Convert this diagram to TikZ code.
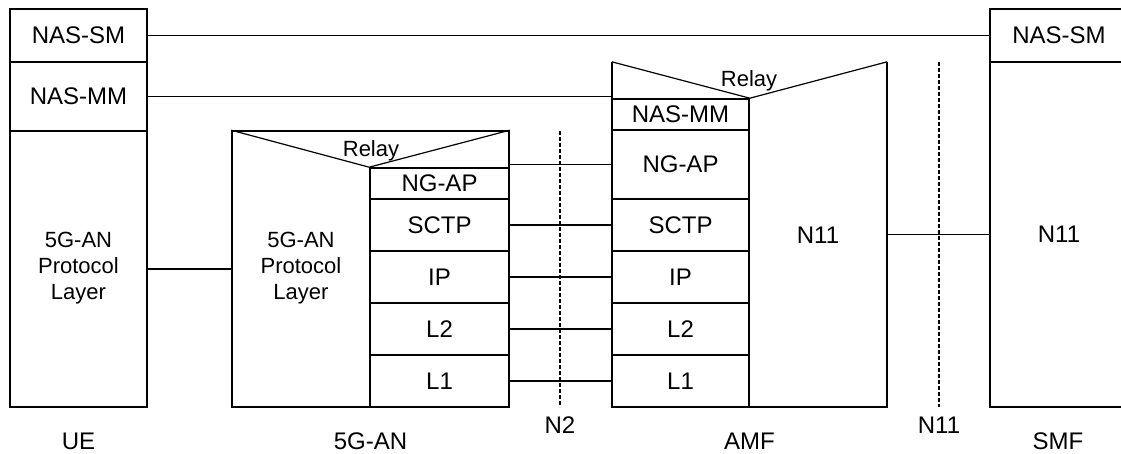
\documentclass[tikz,border=0pt]{standalone}
\usepackage{fontspec}
\setmainfont{Liberation Sans}
\usetikzlibrary{positioning}

\tikzset{
    cell/.style={draw, line width=1.6pt, inner sep=0pt, font=\fontsize{24}{26}\selectfont},
    frame/.style={inner sep=0pt},
    lbl/.style={inner sep=0pt, font=\fontsize{24}{26}\selectfont},
    relaytext/.style={inner sep=0pt, font=\fontsize{22}{26}\selectfont},
    stacktext/.style={inner sep=0pt, align=center, font=\fontsize{22}{26}\selectfont},
    link/.style={line width=1.6pt},
    vline/.style={line width=1.2pt},
    refline/.style={line width=1.2pt, dash pattern=on 4pt off 2pt}
}

\begin{document}
\begin{tikzpicture}[x=1pt, y=-1pt]
    \useasboundingbox (0, 0) rectangle (1121, 454);
    \clip (0, 0) rectangle (1121, 454);

    % UE
    \node[cell, minimum width=137pt, minimum height=53pt] (ueSM) at (78.5, 35.5) {NAS-SM};
    \node[cell, minimum width=137pt, minimum height=69pt] (ueMM) at (78.5, 96.5) {NAS-MM};
    \node[cell, minimum width=137pt, minimum height=276pt] (ueAN) at (78.5, 269) {};
    \node[stacktext] (uePL) at (78.5, 268) {5G-AN\\Protocol\\Layer};

    % 5G-AN
    \node[cell, minimum width=277pt, minimum height=276pt] (anBox) at (370.5, 269) {};
    \node[cell, minimum width=139pt, minimum height=31pt] (anNGAP) at (439.5, 183.5) {NG-AP};
    \node[cell, minimum width=139pt, minimum height=52pt] (anSCTP) at (439.5, 225) {SCTP};
    \node[cell, minimum width=139pt, minimum height=52pt] (anIP) at (439.5, 277) {IP};
    \node[cell, minimum width=139pt, minimum height=52pt] (anL2) at (439.5, 329) {L2};
    \node[cell, minimum width=139pt, minimum height=52pt] (anL1) at (439.5, 381) {L1};
    \draw[vline] (anBox.north west) -- (anNGAP.north west) -- (anBox.north east);
    \node[relaytext] (anRelay) at (371, 151) {Relay};
    \node[stacktext] (anPL) at (301, 268) {5G-AN\\Protocol\\Layer};

    % AMF
    \node[frame, minimum width=275pt, minimum height=345pt] (amfBox) at (749.5, 234.5) {};
    \draw[link] (amfBox.north west) -- (amfBox.south west) -- (amfBox.south east) -- (amfBox.north east);
    \node[cell, minimum width=137pt, minimum height=31pt] (amfMM) at (680.5, 114.5) {NAS-MM};
    \node[cell, minimum width=137pt, minimum height=69pt] (amfNGAP) at (680.5, 164.5) {NG-AP};
    \node[cell, minimum width=137pt, minimum height=52pt] (amfSCTP) at (680.5, 225) {SCTP};
    \node[cell, minimum width=137pt, minimum height=52pt] (amfIP) at (680.5, 277) {IP};
    \node[cell, minimum width=137pt, minimum height=52pt] (amfL2) at (680.5, 329) {L2};
    \node[cell, minimum width=137pt, minimum height=52pt] (amfL1) at (680.5, 381) {L1};
    \draw[vline] (amfBox.north west) -- (amfMM.north east) -- (amfBox.north east);
    \node[relaytext] (amfRelay) at (749, 81) {Relay};
    \node[lbl] (amfN11) at (818, 235) {N11};

    % SMF
    \node[cell, minimum width=138pt, minimum height=53pt] (smfSM) at (1059, 35.5) {NAS-SM};
    \node[cell, minimum width=138pt, minimum height=345pt] (smfN11) at (1059, 234.5) {N11};

    % Peer links
    \draw[link] (ueSM.east) -- (smfSM.west);
    \draw[link] (ueMM.east) -- (ueMM.east -| amfMM.west);
    \draw[link] (ueAN.east) -- (anBox.west);
    \draw[link] (amfNGAP.west -| anNGAP.east) -- (amfNGAP.west);
    \foreach \l in {SCTP, IP, L2, L1} {
        \draw[link] (an\l.east) -- (amf\l.west);
    }
    \draw[link] (amfBox.east) -- (smfN11.west);

    % Reference points
    \coordinate (n2top) at (560, 131);
    \coordinate (n2bot) at (560, 407);
    \coordinate (n11top) at (939, 62);
    \coordinate (n11bot) at (939, 407);
    \draw[refline] (n2top) -- (n2bot);
    \draw[refline] (n11top) -- (n11bot);
    \node[lbl] (n2lbl) at (560, 425) {N2};
    \node[lbl] (n11lbl) at (939, 425) {N11};

    % Entity names
    \node[lbl] (ueName) at (78.5, 441) {UE};
    \node[lbl] (anName) at (370.5, 441) {5G-AN};
    \node[lbl] (amfName) at (749.5, 441) {AMF};
    \node[lbl] (smfName) at (1058, 441) {SMF};
\end{tikzpicture}
\end{document}
